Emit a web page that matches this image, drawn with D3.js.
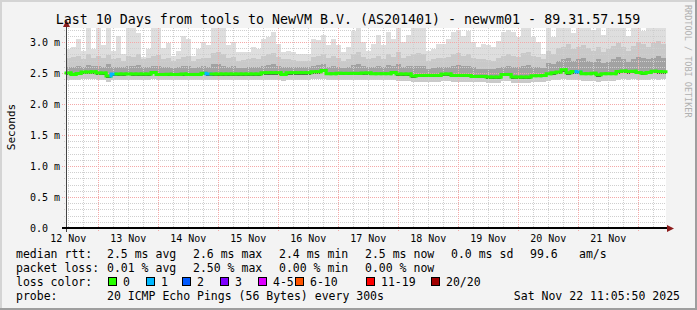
<!DOCTYPE html>
<html>
<head>
<meta charset="utf-8">
<script src="https://cdn.jsdelivr.net/npm/d3@7"></script>
<style>
body { margin: 0; background: #f3f3f3; }
svg { display: block; }
text { font-family: "DejaVu Sans Mono", monospace; }
</style>
</head>
<body>
<svg id="chart" width="697" height="310"></svg>
<script>
// one value per 2 hour column, in ms (axis shows "m" = milli seconds)
let median = [
2.50,2.477,2.49,2.516,2.516,2.52,2.50,2.50,2.45,2.484,
2.484,2.484,2.484,2.484,2.484,2.484,2.484,2.51,2.477,2.477,
2.48,2.477,2.477,2.484,2.477,2.477,2.477,2.494,2.484,2.484,
2.484,2.484,2.484,2.484,2.484,2.484,2.484,2.484,2.484,2.505,
2.505,2.505,2.505,2.477,2.505,2.505,2.505,2.505,2.505,2.521,
2.521,2.542,2.489,2.489,2.494,2.494,2.494,2.494,2.494,2.50,
2.50,2.489,2.489,2.489,2.489,2.51,2.484,2.484,2.484,2.45,
2.461,2.461,2.461,2.461,2.461,2.484,2.484,2.461,2.461,2.461,
2.461,2.445,2.445,2.445,2.435,2.435,2.435,2.477,2.477,2.435,
2.435,2.435,2.435,2.456,2.456,2.461,2.489,2.505,2.516,2.553,
2.505,2.526,2.516,2.489,2.489,2.494,2.47,2.489,2.489,2.489,
2.526,2.534,2.526,2.53,2.51,2.495,2.51,2.53,2.526,2.52];

let rttMax = [
2.88,2.92,3.05,2.85,3.22,2.88,3.22,2.95,3.22,2.85,3.10,2.80,3.23,3.23,3.15,2.76,2.88,3.23,3.23,2.90,2.98,2.78,2.85,3.10,
3.05,2.78,2.89,3.00,2.95,3.23,3.23,3.23,2.95,3.00,2.84,2.84,2.84,2.92,2.89,3.05,3.08,3.16,2.97,2.84,2.86,2.84,2.81,2.81,
2.81,3.05,3.03,3.12,2.95,3.05,2.95,2.84,2.92,3.18,3.23,3.00,2.86,2.97,3.12,2.95,3.16,3.05,3.23,3.00,3.12,3.23,3.23,3.23,
2.86,2.89,2.97,2.97,3.05,3.16,3.20,3.10,3.18,3.00,2.92,2.97,2.95,2.92,3.02,3.16,3.20,3.16,3.08,3.23,3.23,3.08,3.00,2.81,
3.23,3.08,3.23,3.23,3.23,3.15,3.23,3.23,3.23,3.20,3.23,3.12,3.23,3.23,3.23,3.23,3.10,3.23,3.23,3.18,3.23,3.23,3.23,3.23];

let rttP90 = [
2.74,2.76,2.78,2.72,2.80,2.75,2.78,2.74,2.79,2.72,2.74,2.70,2.77,2.76,2.80,2.72,2.74,2.78,2.79,2.73,2.75,2.70,2.72,2.76,
2.78,2.70,2.72,2.75,2.74,2.82,2.84,2.80,2.74,2.76,2.70,2.71,2.72,2.74,2.73,2.78,2.80,2.82,2.76,2.72,2.72,2.71,2.70,2.70,
2.70,2.76,2.78,2.80,2.74,2.78,2.74,2.70,2.73,2.80,2.84,2.76,2.72,2.74,2.78,2.72,2.80,2.76,2.84,2.74,2.78,2.80,2.82,2.80,
2.70,2.72,2.74,2.74,2.76,2.80,2.82,2.78,2.80,2.74,2.72,2.72,2.71,2.70,2.74,2.78,2.80,2.78,2.76,2.82,2.84,2.78,2.76,2.72,
2.86,2.80,2.90,2.92,2.96,2.88,2.92,2.95,2.90,2.86,2.92,2.84,2.88,2.94,2.98,2.92,2.86,2.94,3.00,2.96,2.92,2.98,3.02,2.96];

let rttP75 = [
2.60,2.60,2.62,2.60,2.63,2.61,2.62,2.60,2.64,2.60,2.60,2.59,2.62,2.61,2.63,2.59,2.60,2.62,2.62,2.59,2.60,2.58,2.59,2.61,
2.62,2.58,2.59,2.61,2.60,2.64,2.65,2.62,2.60,2.61,2.58,2.58,2.59,2.60,2.59,2.62,2.63,2.64,2.61,2.60,2.60,2.60,2.59,2.59,
2.59,2.62,2.63,2.64,2.60,2.62,2.60,2.58,2.59,2.63,2.65,2.61,2.59,2.60,2.62,2.59,2.63,2.61,2.64,2.59,2.61,2.62,2.62,2.61,
2.57,2.58,2.59,2.59,2.60,2.62,2.63,2.61,2.62,2.59,2.57,2.57,2.56,2.56,2.58,2.60,2.61,2.60,2.59,2.62,2.63,2.60,2.59,2.58,
2.66,2.64,2.70,2.72,2.74,2.70,2.72,2.74,2.70,2.68,2.72,2.66,2.68,2.72,2.76,2.72,2.68,2.72,2.76,2.74,2.72,2.74,2.78,2.74];

let rttP25 = [
2.47,2.45,2.46,2.48,2.48,2.49,2.47,2.47,2.42,2.45,2.45,2.45,2.46,2.45,2.45,2.45,2.45,2.48,2.45,2.45,2.45,2.45,2.45,2.45,
2.45,2.45,2.45,2.46,2.45,2.45,2.45,2.45,2.45,2.45,2.45,2.45,2.45,2.45,2.45,2.47,2.47,2.47,2.47,2.45,2.47,2.47,2.47,2.47,
2.47,2.49,2.49,2.51,2.46,2.46,2.46,2.46,2.46,2.46,2.46,2.47,2.47,2.46,2.46,2.46,2.46,2.48,2.45,2.45,2.45,2.42,2.43,2.43,
2.43,2.43,2.43,2.45,2.45,2.43,2.43,2.43,2.43,2.42,2.42,2.42,2.41,2.41,2.41,2.45,2.45,2.41,2.41,2.41,2.41,2.43,2.43,2.43,
2.46,2.47,2.48,2.52,2.47,2.49,2.48,2.46,2.46,2.46,2.44,2.46,2.46,2.46,2.49,2.50,2.49,2.50,2.48,2.46,2.48,2.50,2.49,2.49];

let rttMin = [
2.39,2.38,2.39,2.40,2.40,2.40,2.39,2.39,2.36,2.38,2.38,2.38,2.39,2.38,2.38,2.38,2.38,2.40,2.38,2.38,2.38,2.38,2.38,2.38,
2.38,2.38,2.38,2.39,2.38,2.38,2.38,2.38,2.38,2.38,2.38,2.38,2.38,2.38,2.38,2.39,2.39,2.39,2.39,2.37,2.39,2.39,2.39,2.39,
2.39,2.40,2.40,2.41,2.38,2.38,2.38,2.38,2.38,2.38,2.38,2.39,2.39,2.38,2.38,2.38,2.38,2.39,2.37,2.37,2.37,2.35,2.36,2.36,
2.36,2.36,2.36,2.37,2.37,2.36,2.36,2.36,2.36,2.35,2.35,2.35,2.34,2.34,2.34,2.37,2.37,2.34,2.34,2.34,2.34,2.35,2.35,2.36,
2.37,2.38,2.39,2.40,2.38,2.39,2.39,2.37,2.37,2.37,2.36,2.37,2.37,2.37,2.39,2.40,2.39,2.40,2.39,2.38,2.39,2.40,2.39,2.40];

// lost pings (of 20) per column
let lostPings = [
0,0,0,0,0,0,0,0,0,1,0,0,0,0,0,0,0,0,0,0,0,0,0,0,
0,0,0,0,1,0,0,0,0,0,0,0,0,0,0,0,0,0,0,0,0,0,0,0,
0,0,0,0,0,0,0,0,0,0,0,0,0,0,0,0,0,0,0,0,0,0,0,0,
0,0,0,0,0,0,0,0,0,0,0,0,0,0,0,0,0,0,0,0,0,0,0,0,
0,0,0,0,0,0,1,0,0,0,0,0,0,0,0,0,0,0,0,0,0,0,0,0];

let lossLabels = ["0", "1", "2", "3", "4-5", "6-10", "11-19", "20/20"];
let lossColors = ["#26ff00", "#00b8ff", "#0059ff", "#7e00ff", "#dd00ff", "#ff5500", "#ff0000", "#a10000"];
let lossUpper = [0, 1, 2, 3, 5, 10, 19, 20];

let rttStats = ["2.5 ms avg", "2.6 ms max", "2.4 ms min", "2.5 ms now", "0.0 ms sd", "99.6", "am/s"];
let lossStats = ["0.01 % avg", "2.50 % max", "0.00 % min", "0.00 % now"];

let start = new Date(2025, 10, 12, 11, 5, 50);
let end = new Date(2025, 10, 22, 11, 5, 50);
let stepHours = 2;

let svg = d3.select("#chart");
let x = d3.scaleTime().domain([start, end]).range([66, 666]);
let y = d3.scaleLinear().domain([0, 200 / 62]).range([228, 28]).clamp(true);
let times = median.map((d, i) => d3.timeHour.offset(start, i * stepHours));
let colX = (i) => x(times[i]);
let colW = (i) => x(d3.timeHour.offset(times[i], stepHours)) - x(times[i]);

// frame
svg.append("rect").attr("width", 697).attr("height", 310).attr("fill", "#f3f3f3");
svg.append("rect").attr("x", 0).attr("y", 0).attr("width", 697).attr("height", 2).attr("fill", "#d4d4d4");
svg.append("rect").attr("x", 0).attr("y", 0).attr("width", 2).attr("height", 310).attr("fill", "#d4d4d4");
svg.append("rect").attr("x", 0).attr("y", 308).attr("width", 697).attr("height", 2).attr("fill", "#9e9e9e");
svg.append("rect").attr("x", 695).attr("y", 0).attr("width", 2).attr("height", 310).attr("fill", "#9e9e9e");

svg.append("rect").attr("x", 66).attr("y", 28).attr("width", 600).attr("height", 200).attr("fill", "#fff");

// smoke
function band(lo, hi, color) {
	svg.append("g")
		.selectAll("rect")
		.data(times)
		.join("rect")
		.attr("x", (t, i) => colX(i))
		.attr("width", (t, i) => colW(i))
		.attr("y", (t, i) => y(hi[i]))
		.attr("height", (t, i) => Math.max(0, y(lo[i]) - y(hi[i])))
		.attr("fill", color)
		.attr("shape-rendering", "crispEdges");
}
band(rttMin, rttMax, "#dedede");
band(rttMin, rttP90, "#c9c9c9");
band(rttP25, rttP75, "#a2a2a2");
band(rttP25, median, "#555555");

// grid
let minorY = y.ticks(32).filter((v) => Math.abs(v * 2 - Math.round(v * 2)) > 1e-6);
let majorY = y.ticks(6);
let minorX = d3.timeHour.every(6).range(start, end).filter((t) => t.getHours() !== 0);
let majorX = d3.timeDay.range(start, end);
let grid = svg.append("g").attr("shape-rendering", "crispEdges").attr("stroke-dasharray", "1,1");

grid.selectAll(".hmin").data(minorY).join("line")
	.attr("x1", 64).attr("x2", 666)
	.attr("y1", (d) => Math.round(y(d)) + 0.5).attr("y2", (d) => Math.round(y(d)) + 0.5)
	.attr("stroke", "#cfcfcf");
grid.selectAll(".vmin").data(minorX).join("line")
	.attr("x1", (d) => Math.round(x(d)) + 0.5).attr("x2", (d) => Math.round(x(d)) + 0.5)
	.attr("y1", 28).attr("y2", 230)
	.attr("stroke", "#cfcfcf");
grid.selectAll(".hmaj").data(majorY.filter((v) => v > 0)).join("line")
	.attr("x1", 62).attr("x2", 666)
	.attr("y1", (d) => Math.round(y(d)) + 0.5).attr("y2", (d) => Math.round(y(d)) + 0.5)
	.attr("stroke", "#f4a8a8");
grid.selectAll(".vmaj").data(majorX).join("line")
	.attr("x1", (d) => Math.round(x(d)) + 0.5).attr("x2", (d) => Math.round(x(d)) + 0.5)
	.attr("y1", 28).attr("y2", 232)
	.attr("stroke", "#f4a8a8");

// median line, coloured by loss
function lossColor(n) {
	let k = lossUpper.findIndex((u) => n <= u);
	return lossColors[k];
}
svg.append("g")
	.selectAll("path")
	.data(median)
	.join("path")
	.attr("d", (d, i) => {
		let y0 = i > 0 ? y(median[i - 1]) : y(d);
		return "M" + colX(i) + "," + y0 + "V" + y(d) + "H" + (colX(i) + colW(i));
	})
	.attr("fill", "none")
	.attr("stroke", (d, i) => lossColor(lostPings[i]))
	.attr("stroke-width", 3)
	.attr("stroke-linecap", "square");

// axes
svg.append("line").attr("x1", 66.5).attr("x2", 66.5).attr("y1", 232).attr("y2", 25)
	.attr("stroke", "#444").attr("shape-rendering", "crispEdges");
svg.append("line").attr("x1", 62).attr("x2", 668).attr("y1", 228).attr("y2", 228)
	.attr("stroke", "#000").attr("stroke-width", 2).attr("shape-rendering", "crispEdges");
svg.append("path").attr("d", "M63,27L70,27L66.5,20Z").attr("fill", "#8c1c1c");
svg.append("path").attr("d", "M667,225L667,232L674,228.5Z").attr("fill", "#8c1c1c");

svg.append("g").selectAll("text").data(majorY).join("text")
	.attr("x", 30).attr("y", (d) => y(d) + 4)
	.attr("font-size", 10)
	.text((d) => d === 0 ? "0.0" : d3.format(".1f")(d) + " m");

let noons = d3.timeDay.range(d3.timeDay.floor(start), end).map((t) => d3.timeHour.offset(t, 12)).filter((t) => t < end);
svg.append("g").selectAll("text").data(noons).join("text")
	.attr("x", (d) => x(d)).attr("y", 242)
	.attr("text-anchor", "middle").attr("font-size", 10)
	.text((d) => d3.timeFormat("%d %b")(d));

svg.append("text").attr("transform", "translate(15,127) rotate(-90)")
	.attr("text-anchor", "middle").attr("font-size", 11).text("Seconds");

svg.append("text").attr("x", 348).attr("y", 24).attr("text-anchor", "middle").attr("font-size", 13.3)
	.text("Last 10 Days from tools to NewVM B.V. (AS201401) - newvm01 - 89.31.57.159");

svg.append("text").attr("transform", "translate(685,5) rotate(90)")
	.attr("font-size", 8.5).attr("fill", "#b0b0b0").text("RRDTOOL / TOBI OETIKER");

// legend
let fs = 11.5;
let row = (label, yy) => svg.append("text").attr("x", 16).attr("y", yy).attr("font-size", fs).text(label);
row("median rtt:", 258);
row("packet loss:", 272);
row("loss color:", 286);
row("probe:", 300);

let statX = [107, 193, 279, 365, 451, 530, 579];
svg.append("g").selectAll("text").data(rttStats).join("text")
	.attr("x", (d, i) => statX[i]).attr("y", 258).attr("font-size", fs).text((d) => d);
svg.append("g").selectAll("text").data(lossStats).join("text")
	.attr("x", (d, i) => statX[i]).attr("y", 272).attr("font-size", fs).text((d) => d);

let swX = [108, 146, 182, 220, 258, 295, 366, 431];
let sw = svg.append("g").selectAll("g").data(lossLabels).join("g")
	.attr("transform", (d, i) => "translate(" + swX[i] + ",277)");
sw.append("rect").attr("x", 0.5).attr("y", 0.5).attr("width", 8).attr("height", 8)
	.attr("fill", (d, i) => lossColors[i]).attr("stroke", "#000").attr("shape-rendering", "crispEdges");
sw.append("text").attr("x", 15).attr("y", 9).attr("font-size", fs).text((d) => d);

svg.append("text").attr("x", 107).attr("y", 300).attr("font-size", fs)
	.text("20 ICMP Echo Pings (56 Bytes) every 300s");
svg.append("text").attr("x", 680).attr("y", 300).attr("font-size", fs).attr("text-anchor", "end")
	.text("Sat Nov 22 11:05:50 2025");
</script>
</body>
</html>
